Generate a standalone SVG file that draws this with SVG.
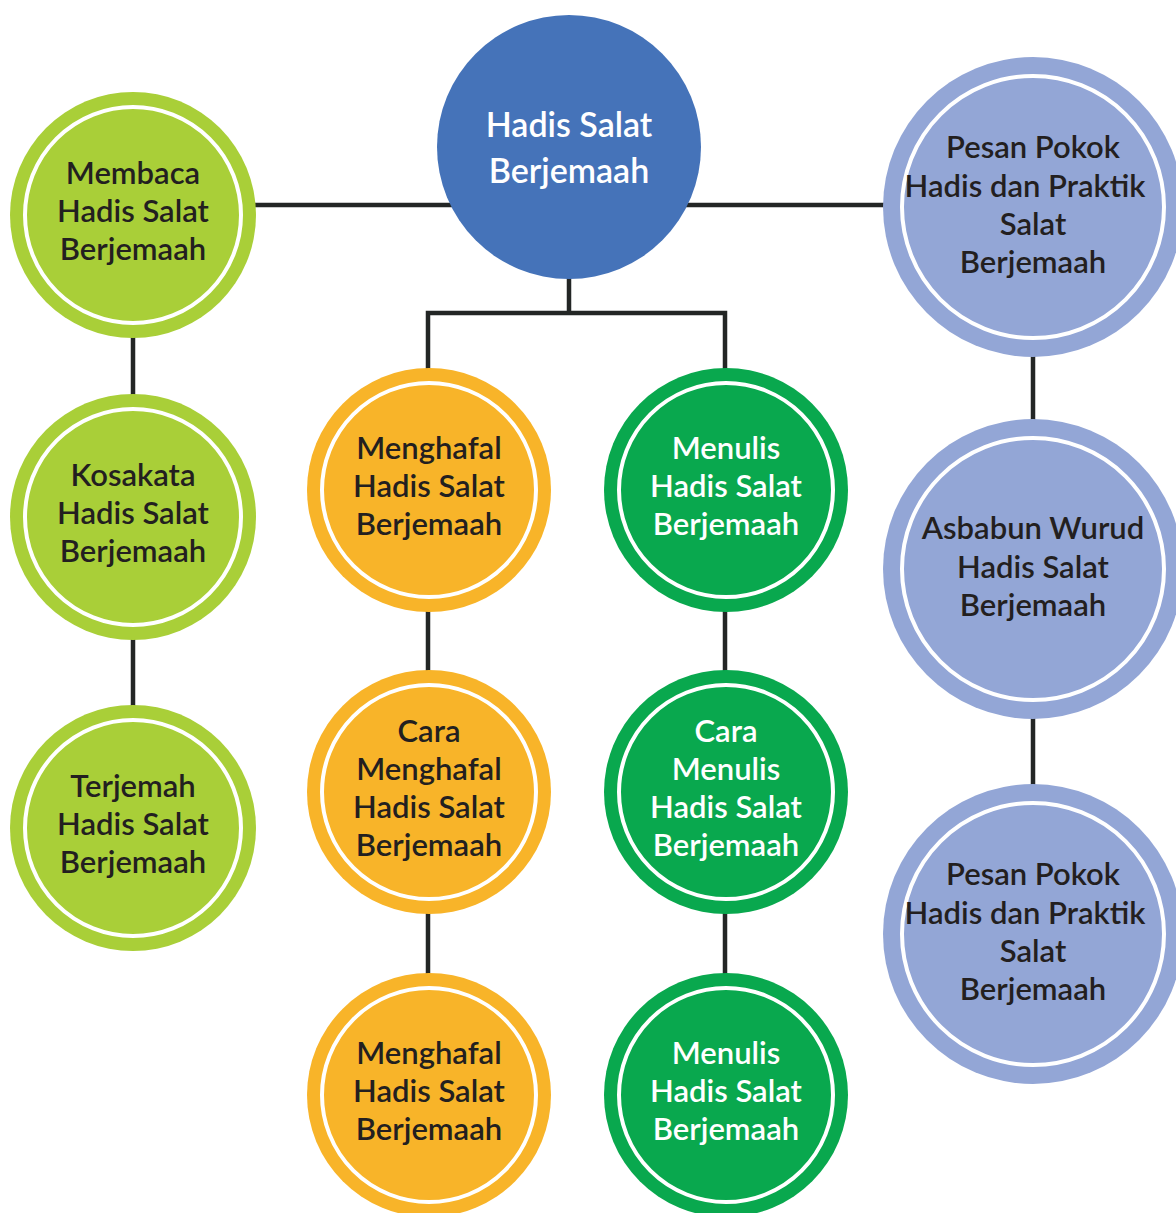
<svg xmlns="http://www.w3.org/2000/svg" width="1176" height="1213" viewBox="0 0 1176 1213">
<style>
.conn{stroke:#232625;stroke-width:4.5;fill:none;stroke-linecap:square}
.ring{fill:none;stroke:#ffffff;stroke-width:4}
.lime{fill:#A9CF38}
.orange{fill:#F8B429}
.green{fill:#09A84E}
.purple{fill:#93A6D6}
.blue{fill:#4573B9}
text{font-family:Lato,"Noto Sans","Liberation Sans",sans-serif;font-size:31px;font-weight:600;text-anchor:middle}
.dark{fill:#231F20}
.light{fill:#ffffff}
.big{font-size:34px}
</style>
<rect width="1176" height="1213" fill="#ffffff"/>
<g id="connectors">
<path class="conn" d="M257 205H883"/>
<path class="conn" d="M569 279V313M428 368V313H725V368"/>
<path class="conn" d="M133 338V395M133 640V705"/>
<path class="conn" d="M428 612V670M428 915V972"/>
<path class="conn" d="M725 612V670M725 915V972"/>
<path class="conn" d="M1033 357V420M1033 718V785"/>
</g>
<g id="root">
<circle class="blue" cx="569" cy="147" r="132"/>
<text class="light big" x="569" y="137">Hadis Salat</text>
<text class="light big" x="569" y="183">Berjemaah</text>
</g>
<g id="membaca">
<circle class="lime" cx="133" cy="215" r="123"/>
<circle class="ring" cx="133" cy="215" r="108"/>
<text class="dark" x="133" y="184">Membaca</text>
<text class="dark" x="133" y="222">Hadis Salat</text>
<text class="dark" x="133" y="260">Berjemaah</text>
</g>
<g id="kosakata">
<circle class="lime" cx="133" cy="517" r="123"/>
<circle class="ring" cx="133" cy="517" r="108"/>
<text class="dark" x="133" y="486">Kosakata</text>
<text class="dark" x="133" y="524">Hadis Salat</text>
<text class="dark" x="133" y="562">Berjemaah</text>
</g>
<g id="terjemah">
<circle class="lime" cx="133" cy="828" r="123"/>
<circle class="ring" cx="133" cy="828" r="108"/>
<text class="dark" x="133" y="797">Terjemah</text>
<text class="dark" x="133" y="835">Hadis Salat</text>
<text class="dark" x="133" y="873">Berjemaah</text>
</g>
<g id="menghafal">
<circle class="orange" cx="429" cy="490" r="122"/>
<circle class="ring" cx="429" cy="490" r="107"/>
<text class="dark" x="429" y="459">Menghafal</text>
<text class="dark" x="429" y="497">Hadis Salat</text>
<text class="dark" x="429" y="535">Berjemaah</text>
</g>
<g id="cara-menghafal">
<circle class="orange" cx="429" cy="792" r="122"/>
<circle class="ring" cx="429" cy="792" r="107"/>
<text class="dark" x="429" y="742">Cara</text>
<text class="dark" x="429" y="780">Menghafal</text>
<text class="dark" x="429" y="818">Hadis Salat</text>
<text class="dark" x="429" y="856">Berjemaah</text>
</g>
<g id="menghafal-2">
<circle class="orange" cx="429" cy="1095" r="122"/>
<circle class="ring" cx="429" cy="1095" r="107"/>
<text class="dark" x="429" y="1064">Menghafal</text>
<text class="dark" x="429" y="1102">Hadis Salat</text>
<text class="dark" x="429" y="1140">Berjemaah</text>
</g>
<g id="menulis">
<circle class="green" cx="726" cy="490" r="122"/>
<circle class="ring" cx="726" cy="490" r="107"/>
<text class="light" x="726" y="459">Menulis</text>
<text class="light" x="726" y="497">Hadis Salat</text>
<text class="light" x="726" y="535">Berjemaah</text>
</g>
<g id="cara-menulis">
<circle class="green" cx="726" cy="792" r="122"/>
<circle class="ring" cx="726" cy="792" r="107"/>
<text class="light" x="726" y="742">Cara</text>
<text class="light" x="726" y="780">Menulis</text>
<text class="light" x="726" y="818">Hadis Salat</text>
<text class="light" x="726" y="856">Berjemaah</text>
</g>
<g id="menulis-2">
<circle class="green" cx="726" cy="1095" r="122"/>
<circle class="ring" cx="726" cy="1095" r="107"/>
<text class="light" x="726" y="1064">Menulis</text>
<text class="light" x="726" y="1102">Hadis Salat</text>
<text class="light" x="726" y="1140">Berjemaah</text>
</g>
<g id="pesan-pokok">
<circle class="purple" cx="1033" cy="207" r="150"/>
<circle class="ring" cx="1033" cy="207" r="131"/>
<text class="dark" x="1033" y="158">Pesan Pokok</text>
<text class="dark" x="1025" y="197">Hadis dan Praktik</text>
<text class="dark" x="1033" y="235">Salat</text>
<text class="dark" x="1033" y="273">Berjemaah</text>
</g>
<g id="asbabun-wurud">
<circle class="purple" cx="1033" cy="569" r="150"/>
<circle class="ring" cx="1033" cy="569" r="131"/>
<text class="dark" x="1033" y="539">Asbabun Wurud</text>
<text class="dark" x="1033" y="578">Hadis Salat</text>
<text class="dark" x="1033" y="616">Berjemaah</text>
</g>
<g id="pesan-pokok-2">
<circle class="purple" cx="1033" cy="934" r="150"/>
<circle class="ring" cx="1033" cy="934" r="131"/>
<text class="dark" x="1033" y="885">Pesan Pokok</text>
<text class="dark" x="1025" y="924">Hadis dan Praktik</text>
<text class="dark" x="1033" y="962">Salat</text>
<text class="dark" x="1033" y="1000">Berjemaah</text>
</g>
</svg>
